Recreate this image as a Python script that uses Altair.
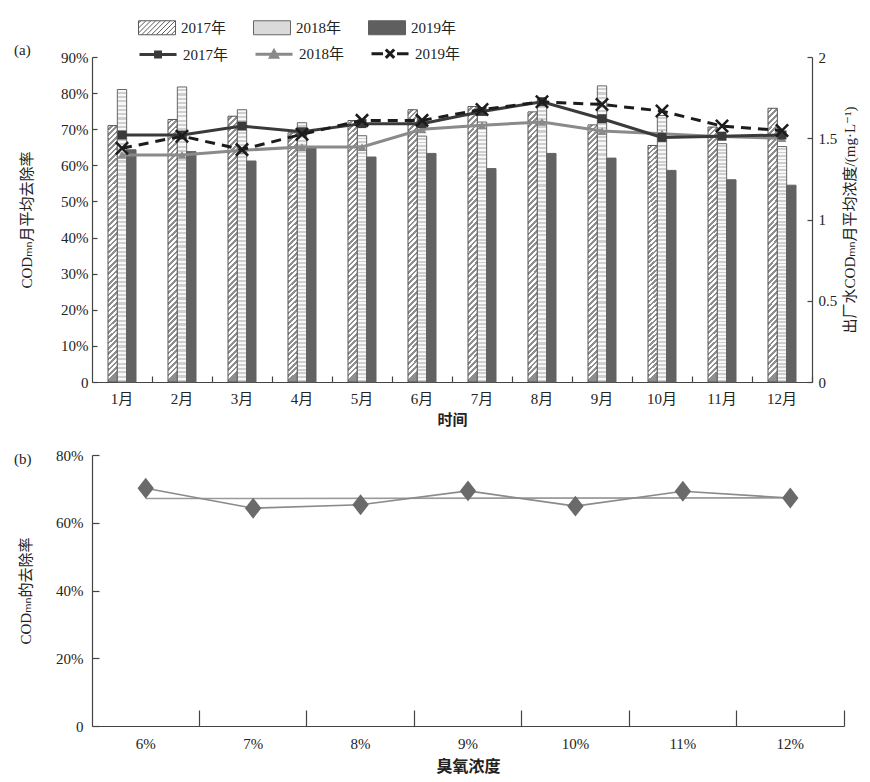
import altair as alt
import pandas as pd

# ---------------- data ----------------
months = ["1月", "2月", "3月", "4月", "5月", "6月", "7月", "8月", "9月", "10月", "11月", "12月"]
years = ["2017年", "2018年", "2019年"]

# monthly mean removal rate (%), bars, left axis
removal_2017 = [71.0, 72.7, 73.6, 69.0, 72.4, 75.4, 76.3, 74.8, 71.2, 65.5, 70.6, 75.8]
removal_2018 = [81.0, 81.7, 75.4, 71.8, 68.2, 68.1, 72.0, 78.3, 82.0, 73.8, 66.0, 65.2]
removal_2019 = [64.3, 63.8, 61.2, 65.0, 62.3, 63.3, 59.1, 63.3, 62.0, 58.6, 56.0, 54.5]

# monthly mean effluent COD_Mn (mg/L), lines, right axis
conc_2017 = [1.52, 1.52, 1.575, 1.54, 1.59, 1.59, 1.665, 1.725, 1.62, 1.505, 1.513, 1.52]
conc_2018 = [1.397, 1.397, 1.426, 1.446, 1.446, 1.555, 1.58, 1.60, 1.544, 1.528, 1.51, 1.50]
conc_2019 = [1.438, 1.513, 1.43, 1.525, 1.61, 1.61, 1.677, 1.724, 1.708, 1.667, 1.575, 1.548]

# panel (b)
ozone = [6, 7, 8, 9, 10, 11, 12]
removal_ozone = [70.2, 64.3, 65.3, 69.4, 64.9, 69.3, 67.3]

FONT = "Liberation Serif, Noto Sans CJK SC, DejaVu Sans"

bar_df = pd.DataFrame({
    "月": months * 3,
    "年": [y for y in years for _ in months],
    "去除率": [v / 100 for v in removal_2017 + removal_2018 + removal_2019],
})
line_df = pd.DataFrame({
    "月": months * 3,
    "年": [y for y in years for _ in months],
    "浓度": conc_2017 + conc_2018 + conc_2019,
})
b_df = pd.DataFrame({"臭氧": ozone, "去除率": [v / 100 for v in removal_ozone]})


# ---------------- fills (patterns via gradients) ----------------
def stripes(c1, c2, n, frac, x2, y2):
    stops = []
    for k in range(n):
        a = round(k / n, 5)
        b = round((k + frac) / n, 5)
        c = round((k + 1) / n, 5)
        stops += [
            alt.GradientStop(offset=a, color=c1),
            alt.GradientStop(offset=b, color=c1),
            alt.GradientStop(offset=b, color=c2),
            alt.GradientStop(offset=c, color=c2),
        ]
    return alt.LinearGradient(gradient="linear", stops=stops, x1=0, y1=0, x2=x2, y2=y2)


hatch_fill = stripes("#ffffff", "#8f8f8f", 48, 0.5, 9.3 / 265, 1)
dots_fill = stripes("#f8f8f8", "#cfcfcf", 68, 0.5, 0, 1)

# ---------------- legend symbol paths ----------------
R = 4.29
rect_path = f"M-1,-1H{R}V1H-1Z"
hatch_parts = [rect_path]
c = -3.0 + 0.35
while c < R:
    lo = max(0.0, (-1 - c) / 2)
    hi = min(1.0, (R - c) / 2)
    if hi > lo:
        xa, ya = c + 2 * lo, 1 - 2 * lo
        xb, yb = c + 2 * hi, 1 - 2 * hi
        hatch_parts.append(f"M{xa:.3f},{ya:.3f}L{xb:.3f},{yb:.3f}")
    c += 0.7
hatch_path = "".join(hatch_parts)

mid = (R - 1) / 2
line_sq = f"M-1,0H{R}M{mid-0.35:.3f},-0.35H{mid+0.35:.3f}V0.35H{mid-0.35:.3f}Z"
line_tri = f"M-1,0H{R}M{mid-0.5:.3f},0.4L{mid:.3f},-0.5L{mid+0.5:.3f},0.4Z"
line_x = (f"M-1,0H{mid-1.0:.3f}M{mid+1.0:.3f},0H{R}"
          f"M{mid-0.6:.3f},-0.6L{mid+0.6:.3f},0.6M{mid-0.6:.3f},0.6L{mid+0.6:.3f},-0.6")

cross_path = "M-1,-1L1,1M-1,1L1,-1"
diamond_path = "M0,-1.15L0.9,0L0,1.15L-0.9,0Z"

# ---------------- panel (a) ----------------
W_A, H_A = 720, 325
x_a = alt.X(
    "月:N", sort=months,
    scale=alt.Scale(type="band", domain=months, paddingInner=0, paddingOuter=0),
    axis=alt.Axis(bandPosition=1, tickSize={"expr": "-6"},
                  labelPadding=15, labelAngle=0, titlePadding=6,
                  titleFontWeight="bold", titleFontSize=15),
    title="时间",
)
xoff = alt.XOffset("年:N", scale=alt.Scale(domain=years, range=[16, 44]))
y_left = alt.Y(
    "去除率:Q", scale=alt.Scale(domain=[0, 0.9]),
    axis=alt.Axis(values=[i / 10 for i in range(10)],
                  labelExpr="datum.value == 0 ? '0' : format(datum.value, '.0%')",
                  tickSize={"expr": "-5"}, labelPadding=9, titlePadding=26),
    title="CODₘₙ月平均去除率",
)
y_right = alt.Y(
    "浓度:Q", scale=alt.Scale(domain=[0, 2]),
    axis=alt.Axis(orient="right", values=[0, 0.5, 1, 1.5, 2], format="~g",
                  tickSize={"expr": "-5"}, labelPadding=11, titlePadding=6,
                  titleAngle=270, titleBaseline="top"),
    title="出厂水CODₘₙ月平均浓度/(mg·L⁻¹)",
)


def bar_layer(year, fill, stroke):
    return alt.Chart(bar_df).transform_filter(alt.datum["年"] == year).mark_bar(
        fill=fill, stroke=stroke, strokeWidth=1
    ).encode(x=x_a, xOffset=xoff, y=y_left)


bars = alt.layer(
    bar_layer("2017年", hatch_fill, "#555555"),
    bar_layer("2018年", dots_fill, "#666666"),
    bar_layer("2019年", "#626262", "#626262"),
)


def line_layers(year, color, shape, size, filled, sw, dash=None):
    base = alt.Chart(line_df).transform_filter(alt.datum["年"] == year).encode(x=x_a, y=y_right)
    lk = dict(color=color, strokeWidth=3)
    if dash:
        lk["strokeDash"] = dash
    ln = base.mark_line(**lk)
    pt = base.mark_point(shape=shape, size=size, filled=filled, color=color,
                         opacity=1, strokeWidth=sw)
    return [ln, pt]


lines = alt.layer(
    *line_layers("2018年", "#8a8a8a", "triangle-up", 80, True, 1),
    *line_layers("2017年", "#3a3a3a", "square", 80, True, 1),
    *line_layers("2019年", "#1c1c1c", cross_path, 150, False, 2.5, dash=[10, 7]),
)

leg_common = dict(orient="none", direction="horizontal", title=None, symbolSize=196,
                  labelFont=FONT, labelFontSize=15, labelColor="#222222",
                  labelOffset=28, padding=0, symbolOpacity=1)
leg_bar = alt.Legend(legendX=46, legendY=-37, symbolStrokeWidth=1, columnPadding=24, **leg_common)
leg_line = alt.Legend(legendX=46, legendY=-12, symbolStrokeWidth=3, columnPadding=20, **leg_common)

legend_bars = alt.Chart(pd.DataFrame({"柱": years})).transform_filter("false").mark_point(
    filled=True, opacity=1
).encode(
    shape=alt.Shape("柱:N", scale=alt.Scale(domain=years, range=[hatch_path, rect_path, rect_path]), legend=leg_bar),
    fill=alt.Fill("柱:N", scale=alt.Scale(domain=years, range=["#ffffff", "#dadada", "#5f5f5f"]), legend=leg_bar),
    stroke=alt.Stroke("柱:N", scale=alt.Scale(domain=years, range=["#5a5a5a", "#666666", "#5f5f5f"]), legend=leg_bar),
)
legend_lines = alt.Chart(pd.DataFrame({"线": years})).transform_filter("false").mark_point(
    filled=True, opacity=1
).encode(
    shape=alt.Shape("线:N", scale=alt.Scale(domain=years, range=[line_sq, line_tri, line_x]), legend=leg_line),
    fill=alt.Fill("线:N", scale=alt.Scale(domain=years, range=["#3a3a3a", "#8a8a8a", "#1c1c1c"]), legend=leg_line),
    stroke=alt.Stroke("线:N", scale=alt.Scale(domain=years, range=["#3a3a3a", "#8a8a8a", "#1c1c1c"]), legend=leg_line),
)

label_a = alt.Chart(pd.DataFrame({"t": ["(a)"]})).mark_text(
    font=FONT, fontSize=15, align="left", baseline="middle", color="#222222"
).encode(text="t:N", x=alt.value(-78), y=alt.value(-7))

panel_a = alt.layer(bars, lines, legend_bars, legend_lines, label_a).resolve_scale(
    y="independent", fill="independent", shape="independent", stroke="independent"
).properties(width=W_A, height=H_A)

# ---------------- panel (b) ----------------
W_B, H_B = 752, 271
x_b = alt.X(
    "臭氧:O",
    scale=alt.Scale(type="band", paddingInner=0, paddingOuter=0),
    axis=alt.Axis(bandPosition=1, labelExpr="datum.label + '%'",
                  tickSize={"expr": "-16"}, labelPadding=26, labelAngle=0, titlePadding=7,
                  titleFontWeight="bold", titleFontSize=16),
    title="臭氧浓度",
)
y_b = alt.Y(
    "去除率:Q", scale=alt.Scale(domain=[0, 0.8]),
    axis=alt.Axis(values=[0, 0.2, 0.4, 0.6, 0.8],
                  labelExpr="datum.value == 0 ? '0' : format(datum.value, '.0%')",
                  tickSize={"expr": "-7"}, labelPadding=16, titlePadding=22),
    title="CODₘₙ的去除率",
)
trend_b = alt.Chart(b_df).transform_regression("臭氧", "去除率").mark_line(
    color="#9a9a9a", strokeWidth=1.6
).encode(x=x_b, y=y_b)
line_b = alt.Chart(b_df).mark_line(color="#8a8a8a", strokeWidth=1.6).encode(x=x_b, y=y_b)
pts_b = alt.Chart(b_df).mark_point(shape=diamond_path, size=330, filled=True,
                                   color="#6a6a6a", opacity=1).encode(x=x_b, y=y_b)
label_b = alt.Chart(pd.DataFrame({"t": ["(b)"]})).mark_text(
    font=FONT, fontSize=15, align="left", baseline="middle", color="#222222"
).encode(text="t:N", x=alt.value(-78), y=alt.value(4))

panel_b = alt.layer(trend_b, line_b, pts_b, label_b).properties(width=W_B, height=H_B)

chart = alt.vconcat(panel_a, panel_b, spacing=73, bounds="flush").properties(
    padding={"left": 6, "top": 12, "right": 4, "bottom": 0}
).configure_view(stroke=None).configure_axis(
    grid=False, domainColor="#444444", tickColor="#444444", domainWidth=1.2, tickWidth=1.2,
    labelColor="#222222", titleColor="#222222", labelFont=FONT, titleFont=FONT,
    labelFontSize=15, titleFontSize=15, titleFontWeight="normal",
).configure_legend(labelFont=FONT, labelFontSize=15, labelColor="#222222")

chart.save("out.html", embed_options={"renderer": "svg", "actions": False})
